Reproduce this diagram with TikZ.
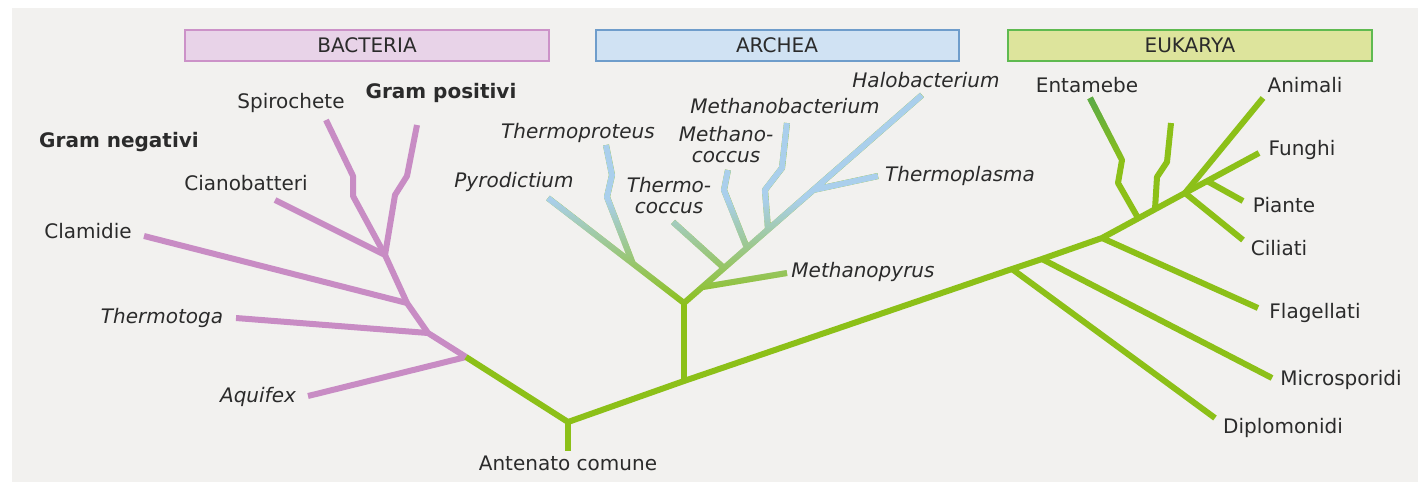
\documentclass[tikz,border=0pt]{standalone}
\usepackage{fontspec}
\setmainfont{DejaVu Sans}
\usepackage{tikz}
\usetikzlibrary{fadings}

\definecolor{panelgray}{HTML}{F2F1EF}
\definecolor{labelgray}{HTML}{2B2B2B}
\definecolor{bactpink}{HTML}{C88CC4}
\definecolor{bactline}{HTML}{CC92C8}
\definecolor{bactfill}{HTML}{E8D3E8}
\definecolor{archblue}{HTML}{AACFEC}
\definecolor{archline}{HTML}{6F9DCB}
\definecolor{archfill}{HTML}{D0E2F3}
\definecolor{eukgreen}{HTML}{8CC018}
\definecolor{entgreen}{HTML}{5AAA4A}
\definecolor{eukline}{HTML}{5FBA50}
\definecolor{eukfill}{HTML}{DDE49C}

\tikzfading[name=tipfade, top color=transparent!0, bottom color=transparent!100, middle color=transparent!0]
\tikzfading[name=entfade, top color=transparent!0, bottom color=transparent!100]

\tikzset{
  branch/.style={
    line width=6pt,
    line join=round
  },
  bact/.style={branch, draw=bactpink},
  euk/.style={branch, draw=eukgreen},
  arch/.style={branch, draw=archblue, path fading=tipfade},
  taxon/.style={
    text=labelgray,
    inner sep=0pt,
    font=\fontsize{20}{21}\selectfont
  },
  genus/.style={taxon, font=\fontsize{20}{21}\selectfont\itshape},
  group/.style={taxon, font=\fontsize{20}{21}\selectfont\bfseries},
  domain/.style={
    line width=2pt,
    minimum width=#1,
    minimum height=31pt,
    inner sep=0pt,
    text=labelgray,
    font=\fontsize{20}{21}\selectfont
  },
  archtree/.pic={
    \draw[#1] (pyro) -- (a1) -- (hal)
      (thprot) -- (612,175) -- (607,197) -- (p1)
      (a2) -- (mpyr)
      (a3) -- (thcoc)
      (mcoc) -- (724,190) -- (a4)
      (mbact) -- (782,168) -- (765,190) -- (a5)
      (a6) -- (thpl);
  }
}

\begin{document}
\begin{tikzpicture}[x=1pt, y=-1pt]
  \fill[white] (0,0) rectangle (1418,483);
  \fill[panelgray] (12,8) rectangle (1418,482);
  \useasboundingbox (0,0) rectangle (1418,483);

  % domains
  \node[domain=364pt, draw=bactline, fill=bactfill] (bactbox) at (367,45) {BACTERIA};
  \node[domain=363pt, draw=archline, fill=archfill] (archbox) at (777,45) {ARCHEA};
  \node[domain=364pt, draw=eukline, fill=eukfill] (eukbox) at (1190,45) {EUKARYA};

  % bacteria
  \coordinate (b1) at (385,255);
  \coordinate (b2) at (407,303);
  \coordinate (b3) at (428,333);
  \coordinate (b4) at (466,357);
  \coordinate (spiro) at (326,120);
  \coordinate (grampos) at (417,125);
  \coordinate (ciano) at (275,200);
  \coordinate (clam) at (144,236);
  \coordinate (tmtoga) at (236,318);
  \coordinate (aquif) at (308,396);

  % trunk
  \coordinate (r) at (568,422);
  \coordinate (rootend) at (568,451);
  \coordinate (a0) at (684,381);
  \coordinate (e1) at (1012,269);
  \coordinate (e2) at (1042,259);
  \coordinate (e3) at (1102,238);
  \coordinate (e4) at (1138,218);
  \coordinate (e5) at (1155,209);
  \coordinate (e6) at (1185,193);
  \coordinate (e7) at (1207,181);

  % archaea
  \coordinate (a1) at (684,303);
  \coordinate (p1) at (633,264);
  \coordinate (a2) at (703,287);
  \coordinate (a3) at (724,268);
  \coordinate (a4) at (747,248);
  \coordinate (a5) at (768,229);
  \coordinate (a6) at (813,190);
  \coordinate (pyro) at (548,198);
  \coordinate (thprot) at (606,145);
  \coordinate (thcoc) at (673,222);
  \coordinate (mcoc) at (728,170);
  \coordinate (mbact) at (787,123);
  \coordinate (hal) at (922,95);
  \coordinate (thpl) at (878,176);
  \coordinate (mpyr) at (787,273);

  % eukarya
  \coordinate (dipl) at (1215,418);
  \coordinate (micro) at (1272,378);
  \coordinate (flag) at (1258,308);
  \coordinate (ent) at (1090,98);
  \coordinate (eukx) at (1171,123);
  \coordinate (anim) at (1263,98);
  \coordinate (fung) at (1259,153);
  \coordinate (piant) at (1243,201);
  \coordinate (cil) at (1243,240);

  \draw[bact] (spiro) -- (353,176) -- (353,196) -- (b1);
  \draw[bact] (grampos) -- (407,176) -- (395,195) -- (b1);
  \draw[bact] (ciano) -- (b1) -- (b2) -- (b3) -- (b4);
  \draw[bact] (clam) -- (b2);
  \draw[bact] (tmtoga) -- (b3);
  \draw[bact] (aquif) -- (b4);

  \draw[euk] (b4) -- (r) -- (a0) -- (e1) -- (e2) -- (e3) -- (e6) -- (fung);
  \draw[euk] (r) -- (rootend);
  \draw[euk] (a0) -- (a1);
  \pic {archtree=euk};
  \pic {archtree=arch};

  \draw[euk] (e1) -- (dipl);
  \draw[euk] (e2) -- (micro);
  \draw[euk] (e3) -- (flag);
  \draw[euk] (ent) -- (1122,160) -- (1118,183) -- (e4);
  \draw[branch, draw=entgreen, path fading=entfade] (ent) -- (1122,160);
  \draw[euk] (eukx) -- (1167,162) -- (1157,177) -- (e5);
  \draw[euk] (e6) -- (anim);
  \draw[euk] (e6) -- (cil);
  \draw[euk] (e7) -- (piant);

  % labels
  \node[group] (lgneg) at (119,142) {Gram negativi};
  \node[taxon] (lspiro) at (291,103) {Spirochete};
  \node[group] (lgpos) at (441,93) {Gram positivi};
  \node[taxon] (lciano) at (246,183) {Cianobatteri};
  \node[taxon] (lclam) at (88,231) {Clamidie};
  \node[genus] (ltmtoga) at (162,318) {Thermotoga};
  \node[genus] (laquif) at (258,397) {Aquifex};
  \node[genus] (lpyro) at (514,182) {Pyrodictium};
  \node[genus] (lthprot) at (578,133) {Thermoproteus};
  \node[genus, align=center] (lmcoc) at (726,145) {Methano-\\coccus};
  \node[genus, align=center] (lthcoc) at (669,196) {Thermo-\\coccus};
  \node[genus] (lmbact) at (785,106) {Methanobacterium};
  \node[genus] (lhal) at (926,80) {Halobacterium};
  \node[genus] (lthpl) at (960,176) {Thermoplasma};
  \node[genus] (lmpyr) at (863,272) {Methanopyrus};
  \node[taxon] (lroot) at (568,463) {Antenato comune};
  \node[taxon] (lent) at (1087,85) {Entamebe};
  \node[taxon] (lanim) at (1305,85) {Animali};
  \node[taxon] (lfung) at (1302,150) {Funghi};
  \node[taxon] (lpiant) at (1284,205) {Piante};
  \node[taxon] (lcil) at (1279,248) {Ciliati};
  \node[taxon] (lflag) at (1315,313) {Flagellati};
  \node[taxon] (lmicro) at (1341,380) {Microsporidi};
  \node[taxon] (ldipl) at (1283,428) {Diplomonidi};
\end{tikzpicture}
\end{document}
